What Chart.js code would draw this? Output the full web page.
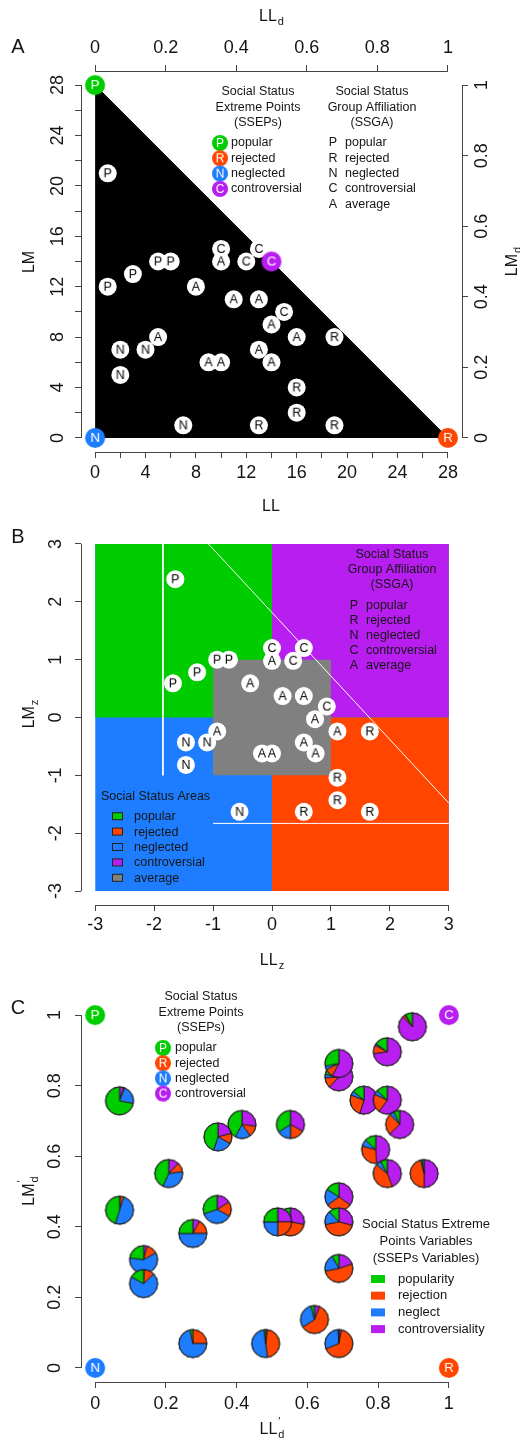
<!DOCTYPE html>
<html><head><meta charset="utf-8">
<script src="https://cdn.jsdelivr.net/npm/chart.js@4/dist/chart.umd.min.js"></script>
<style>
html,body{margin:0;padding:0;background:#fff;width:520px;height:1442px;overflow:hidden}
canvas{position:absolute;left:0}
</style></head><body>
<canvas id="cA" width="520" height="520" style="top:0px"></canvas>
<canvas id="cB" width="520" height="455" style="top:520px"></canvas>
<canvas id="cC" width="520" height="467" style="top:975px"></canvas>
<script>
// ================= DATA =================
// Panel A: raw scores (LL = like-least nominations, LM = like-most nominations)
const A_GROUP = ['P','P','P','P','P','C','C','C','C','A','A','A','A','A','A','A','A','A','A','A','N','N','N','N','R','R','R','R','R'];
const A_LL = [1,1,3,5,6, 10,13,12,15, 10,8,11,13,14,16,5,9,10,13,14, 2,4,2,7, 19,16,16,13,19];
const A_LM = [21,12,13,14,14, 15,15,14,10, 14,12,11,11,9,8,8,6,6,7,6, 7,7,5,1, 8,4,2,1,1];
const TRI_LL = [0,28];
const TRI_LM = [28,0];
const SSEP_LETTER = ['P','R','N','C'];
const SSEP_NAME = ['popular','rejected','neglected','controversial'];
const SSEP_LL = [0,28,0,14];
const SSEP_LM = [28,0,0,14];
const SSGA_LETTER = ['P','R','N','C','A'];
const SSGA_NAME = ['popular','rejected','neglected','controversial','average'];
const LL_TICKS = [0,2,4,6,8,10,12,14,16,18,20,22,24,26,28];
const LL_TICK_LABELS = ['0','','4','','8','','12','','16','','20','','24','','28'];
const D_TICKS = [0,0.2,0.4,0.6,0.8,1];
const D_TICK_LABELS = ['0','0.2','0.4','0.6','0.8','1'];

// Panel B: z-scores
const B_LLZ = [-1.64,-1.68,-1.27,-0.93,-0.73, 0,0.54,0.36,0.93, 0,-0.37,0.18,0.54,0.73,1.11,-0.93,-0.17,0,0.54,0.74, -1.46,-1.10,-1.46,-0.55, 1.66,1.11,1.11,0.54,1.66];
const B_LMZ = [2.39,0.59,0.78,1.0,1.0, 1.2,1.2,0.98,0.19, 0.98,0.59,0.37,0.37,-0.03,-0.24,-0.24,-0.62,-0.62,-0.43,-0.62, -0.43,-0.43,-0.82,-1.63, -0.24,-1.04,-1.43,-1.63,-1.63];
const AREA_NAME = ['neglected','popular','controversial','rejected','average'];
const AREA_X0 = [-3,-3,0,0,-1];
const AREA_X1 = [3,3,3,3,1];
const AREA_Y0 = [-3,0,0,-3,-1];
const AREA_Y1 = [3,3,3,0,1];
const AREA_LEGEND = ['popular','rejected','neglected','controversial','average'];
const GUIDE_LLZ = [[-1.85,-1.85],[-1.08,3],[-1,3]];
const GUIDE_LMZ = [[3,-1],[3,-1.48],[-1.83,-1.83]];
const Z_TICKS = [-3,-2,-1,0,1,2,3];
const Z_TICK_LABELS = ['-3','-2','-1','0','1','2','3'];

// Panel C: relative positions and SSEP variable shares
const PIE_X = [0.069,0.415,0.347,0.552,0.689,0.689,0.826,0.897,0.760,0.826,0.861,0.793,0.826,0.930,0.208,0.069,0.345,0.276,0.552,0.516,0.689,0.689,0.137,0.137,0.689,0.620,0.276,0.482,0.689];
const PIE_Y = [0.757,0.690,0.655,0.690,0.825,0.863,0.896,0.967,0.759,0.759,0.690,0.619,0.551,0.551,0.551,0.447,0.449,0.381,0.414,0.414,0.485,0.414,0.307,0.239,0.282,0.137,0.069,0.069,0.069];
const PIE_POP = [0.72,0.42,0.45,0.34,0.22,0.28,0.15,0.08,0.14,0.13,0.07,0.13,0.08,0.02,0.43,0.45,0.30,0.25,0.12,0.25,0.16,0.12,0.23,0.17,0.08,0.04,0.03,0.02,0.01];
const PIE_REJ = [0.01,0.13,0.12,0.17,0.12,0.10,0.10,0.03,0.26,0.22,0.25,0.30,0.42,0.46,0.11,0.04,0.17,0.17,0.42,0.25,0.30,0.43,0.13,0.12,0.52,0.60,0.25,0.46,0.66];
const PIE_NEG = [0.22,0.18,0.22,0.16,0.04,0.04,0.02,0.01,0.05,0.05,0.05,0.08,0.06,0.02,0.34,0.50,0.37,0.50,0.18,0.25,0.19,0.16,0.60,0.70,0.20,0.30,0.72,0.50,0.30];
const PIE_CON = [0.05,0.27,0.21,0.33,0.62,0.58,0.73,0.88,0.55,0.60,0.63,0.49,0.44,0.50,0.12,0.01,0.16,0.08,0.28,0.25,0.35,0.29,0.04,0.01,0.20,0.06,0.00,0.02,0.03];
const C_SSEP_LETTER = ['P','C','N','R'];
const C_SSEP_X = [0,1,0,1];
const C_SSEP_Y = [1,1,0,0];
const VAR_NAME = ['popularity','rejection','neglect','controversiality'];

// ================= STYLE =================
const FF = "'Liberation Sans', Arial, Helvetica, sans-serif";
const GREEN = '#00CD00', RED = '#FF4500', BLUE = '#1E7DFF', PURPLE = '#B91EF0', GREY = '#808080';
const COLOR_OF = {P: GREEN, R: RED, N: BLUE, C: PURPLE, A: GREY,
  popular: GREEN, rejected: RED, neglected: BLUE, controversial: PURPLE, average: GREY,
  popularity: GREEN, rejection: RED, neglect: BLUE, controversiality: PURPLE};
const AXC = '#444', TXT = '#151515';
Chart.defaults.font.family = FF;
Chart.defaults.color = TXT;

function circleImg(letter, fill, textColor, r, fs) {
  const s = 2 * r + 2, c = document.createElement('canvas');
  c.width = s; c.height = s;
  const g = c.getContext('2d');
  if (fill) { g.beginPath(); g.arc(s / 2, s / 2, r, 0, 2 * Math.PI); g.fillStyle = fill; g.fill(); }
  if (letter) {
    g.fillStyle = textColor; g.font = fs + 'px ' + FF;
    g.textAlign = 'center'; g.textBaseline = 'middle';
    g.fillText(letter, s / 2, s / 2 + 0.5);
  }
  return c;
}
function pieImg(vals, cols, r) {
  const s = 2 * r + 4, c = document.createElement('canvas');
  c.width = s; c.height = s;
  const g = c.getContext('2d'), cx = s / 2, cy = s / 2;
  const tot = vals.reduce((a, b) => a + b, 0);
  let a0 = -Math.PI / 2;
  g.strokeStyle = '#1a1a1a'; g.lineWidth = 0.9;
  vals.forEach((v, i) => {
    if (v <= 0) return;
    const a1 = a0 + 2 * Math.PI * v / tot;
    g.beginPath(); g.moveTo(cx, cy); g.arc(cx, cy, r, a0, a1); g.closePath();
    g.fillStyle = cols[i]; g.fill(); g.stroke();
    a0 = a1;
  });
  g.beginPath(); g.arc(cx, cy, r, 0, 2 * Math.PI); g.stroke();
  return c;
}
function makeAxis(pos, min, max, ticks, labels, size, pad) {
  const vertical = (pos === 'left' || pos === 'right');
  return {
    type: 'linear', position: pos, min: min, max: max, bounds: 'data',
    afterBuildTicks: s => { s.ticks = ticks.map(v => ({ value: v })); },
    afterFit: s => {
      if (vertical) s.width = size; else s.height = size;
      s.paddingTop = 0; s.paddingBottom = 0; s.paddingLeft = 0; s.paddingRight = 0;
    },
    grid: { display: true, drawOnChartArea: false, drawTicks: true, tickLength: 6, color: AXC, lineWidth: 1 },
    border: { display: false },
    ticks: {
      autoSkip: false, color: TXT, font: { size: 18, family: FF }, padding: pad,
      minRotation: vertical ? 90 : 0, maxRotation: vertical ? 90 : 0,
      crossAlign: vertical ? 'center' : 'near',
      callback: (v, i) => labels[i]
    }
  };
}
const rAxisLines = {
  id: 'rAxisLines',
  afterDraw(chart) {
    const ctx = chart.ctx;
    const al = p => Math.round(p - 0.5) + 0.5;
    ctx.save(); ctx.strokeStyle = AXC; ctx.lineWidth = 1;
    Object.values(chart.scales).forEach(s => {
      if (!s.ticks || !s.ticks.length) return;
      const a = s.getPixelForValue(s.ticks[0].value);
      const b = s.getPixelForValue(s.ticks[s.ticks.length - 1].value);
      ctx.beginPath();
      if (s.isHorizontal()) {
        const y = al(s.position === 'top' ? s.bottom : s.top);
        ctx.moveTo(a, y); ctx.lineTo(b, y);
      } else {
        const x = al(s.position === 'left' ? s.right : s.left);
        ctx.moveTo(x, a); ctx.lineTo(x, b);
      }
      ctx.stroke();
    });
    ctx.restore();
  }
};
function txt(ctx, s, x, y, size, align, color) {
  ctx.font = size + 'px ' + FF; ctx.fillStyle = color || TXT;
  ctx.textAlign = align || 'left'; ctx.textBaseline = 'middle';
  ctx.fillText(s, x, y);
}
function axisTitle(ctx, x, y, main, sub, sup, rotate) {
  const size = 16, ss = 11;
  ctx.save(); ctx.translate(x, y); if (rotate) ctx.rotate(-Math.PI / 2);
  ctx.font = size + 'px ' + FF; const wm = ctx.measureText(main).width;
  ctx.font = ss + 'px ' + FF;
  const ws = Math.max(sub ? ctx.measureText(sub).width : 0, sup ? ctx.measureText(sup).width : 0);
  const x0 = -(wm + ws + 1) / 2, base = size * 0.36;
  ctx.fillStyle = TXT; ctx.textAlign = 'left'; ctx.textBaseline = 'alphabetic';
  ctx.font = size + 'px ' + FF; ctx.fillText(main, x0, base);
  ctx.font = ss + 'px ' + FF;
  if (sub) ctx.fillText(sub, x0 + wm + 1, base + 4);
  if (sup) ctx.fillText(sup, x0 + wm + 1, base - 9);
  ctx.restore();
}
function drawImgAt(ctx, img, x, y) { ctx.drawImage(img, x - img.width / 2, y - img.height / 2); }
const baseOpts = {
  responsive: false, animation: false, events: [],
  plugins: { legend: { display: false }, tooltip: { enabled: false } }
};
const pts = (xs, ys) => xs.map((x, i) => ({ x: x, y: ys[i] }));

// ================= PANEL A =================
new Chart(document.getElementById('cA'), {
  type: 'scatter',
  data: { datasets: [
    { type: 'line', data: pts(TRI_LL, TRI_LM), fill: 'origin', backgroundColor: '#000', borderColor: '#000', borderWidth: 1, pointRadius: 0, order: 4 },
    { data: pts(A_LL, A_LM), pointStyle: 'circle', pointRadius: 9, pointBackgroundColor: '#fff', pointBorderColor: '#fff', pointBorderWidth: 0, order: 3 },
    { data: pts(A_LL, A_LM), pointStyle: A_GROUP.map(l => circleImg(l, null, '#000', 9, 12.5)), pointRadius: 9, order: 2 },
    { data: pts(SSEP_LL, SSEP_LM), pointStyle: SSEP_LETTER.map(l => circleImg(l, COLOR_OF[l], '#fff', 10, 13.5)), pointRadius: 10, order: 1 }
  ]},
  options: Object.assign({}, baseOpts, {
    scales: {
      x: makeAxis('bottom', -1.12, 29.12, LL_TICKS, LL_TICK_LABELS, 68, 4),
      x2: makeAxis('top', -0.04, 1.04, D_TICKS, D_TICK_LABELS, 71, 6),
      y: makeAxis('left', -1.12, 29.12, LL_TICKS, LL_TICK_LABELS, 81, 7),
      y2: makeAxis('right', -0.04, 1.04, D_TICKS, D_TICK_LABELS, 58, 2)
    }
  }),
  plugins: [rAxisLines, { id: 'textA', afterDraw(chart) {
    const ctx = chart.ctx; ctx.save();
    txt(ctx, 'A', 18, 47, 20, 'center');
    axisTitle(ctx, 271.5, 15, 'LL', 'd');
    axisTitle(ctx, 271.5, 505, 'LL');
    axisTitle(ctx, 28, 261.5, 'LM', null, null, true);
    axisTitle(ctx, 511, 261.5, 'LM', 'd', null, true);
    ['Social Status', 'Extreme Points', '(SSEPs)'].forEach((t, i) => txt(ctx, t, 258, 92 + 15.5 * i, 12.5, 'center'));
    SSEP_LETTER.forEach((l, i) => {
      const y = 143 + 15.3 * i;
      drawImgAt(ctx, circleImg(l, COLOR_OF[l], '#fff', 8, 12), 220, y);
      txt(ctx, SSEP_NAME[i], 231, y, 12.5);
    });
    ['Social Status', 'Group Affiliation', '(SSGA)'].forEach((t, i) => txt(ctx, t, 372, 92 + 15.5 * i, 12.5, 'center'));
    SSGA_LETTER.forEach((l, i) => {
      const y = 143 + 15.3 * i;
      txt(ctx, l, 333, y, 12.5, 'center');
      txt(ctx, SSGA_NAME[i], 345, y, 12.5);
    });
    ctx.restore();
  }}]
});

// ================= PANEL B =================
const bDatasets = [];
AREA_NAME.forEach((n, i) => bDatasets.push({
  type: 'line', data: [{ x: AREA_X0[i], y: AREA_Y1[i] }, { x: AREA_X1[i], y: AREA_Y1[i] }],
  fill: { value: AREA_Y0[i] }, backgroundColor: COLOR_OF[n], borderColor: 'transparent', borderWidth: 0, pointRadius: 0, order: 30 - i
}));
GUIDE_LLZ.forEach((xs, i) => bDatasets.push({
  type: 'line', data: pts(xs, GUIDE_LMZ[i]), fill: false, borderColor: '#fff', borderWidth: 1, pointRadius: 0, order: 10
}));
bDatasets.push({ data: pts(B_LLZ, B_LMZ), pointStyle: 'circle', pointRadius: 9, pointBackgroundColor: '#fff', pointBorderColor: '#fff', pointBorderWidth: 0, order: 3 });
bDatasets.push({ data: pts(B_LLZ, B_LMZ), pointStyle: A_GROUP.map(l => circleImg(l, null, '#000', 9, 12.5)), pointRadius: 9, order: 2 });

new Chart(document.getElementById('cB'), {
  type: 'scatter',
  data: { datasets: bDatasets },
  options: Object.assign({}, baseOpts, {
    layout: { padding: { top: 4, right: 57 } },
    scales: {
      x: makeAxis('bottom', -3.24, 3.24, Z_TICKS, Z_TICK_LABELS, 70, 3),
      y: makeAxis('left', -3.24, 3.24, Z_TICKS, Z_TICK_LABELS, 81, 11)
    }
  }),
  plugins: [rAxisLines, { id: 'textB', afterDraw(chart) {
    const ctx = chart.ctx; ctx.save(); ctx.translate(0, -520);
    txt(ctx, 'B', 18, 537, 20, 'center');
    axisTitle(ctx, 272, 959, 'LL', 'z');
    axisTitle(ctx, 28, 714, 'LM', 'z', null, true);
    ['Social Status', 'Group Affiliation', '(SSGA)'].forEach((t, i) => txt(ctx, t, 392, 555 + 15 * i, 12.5, 'center'));
    SSGA_LETTER.forEach((l, i) => {
      const y = 606 + 15 * i;
      txt(ctx, l, 354, y, 12.5, 'center');
      txt(ctx, SSGA_NAME[i], 366, y, 12.5);
    });
    txt(ctx, 'Social Status Areas', 101, 797, 12.5);
    AREA_LEGEND.forEach((n, i) => {
      const y = 816.7 + 15.4 * i;
      ctx.fillStyle = COLOR_OF[n]; ctx.fillRect(112.5, y - 4, 10, 7);
      ctx.strokeStyle = '#222'; ctx.lineWidth = 1; ctx.strokeRect(112.5, y - 4, 10, 7);
      txt(ctx, n, 134, y, 12.5);
    });
    ctx.restore();
  }}]
});

// ================= PANEL C =================
const PIE_COLS = [COLOR_OF.controversiality, COLOR_OF.rejection, COLOR_OF.neglect, COLOR_OF.popularity];
new Chart(document.getElementById('cC'), {
  type: 'scatter',
  data: { datasets: [
    { data: pts(PIE_X, PIE_Y), pointStyle: PIE_X.map((_, i) => pieImg([PIE_CON[i], PIE_REJ[i], PIE_NEG[i], PIE_POP[i]], PIE_COLS, 14)), pointRadius: 14, order: 2 },
    { data: pts(C_SSEP_X, C_SSEP_Y), pointStyle: C_SSEP_LETTER.map(l => circleImg(l, COLOR_OF[l], '#fff', 10, 13.5)), pointRadius: 10, order: 1 }
  ]},
  options: Object.assign({}, baseOpts, {
    layout: { padding: { top: 26, right: 57 } },
    scales: {
      x: makeAxis('bottom', -0.04, 1.04, D_TICKS, D_TICK_LABELS, 60, 5),
      y: makeAxis('left', -0.04, 1.04, D_TICKS, D_TICK_LABELS, 81, 7.5)
    }
  }),
  plugins: [rAxisLines, { id: 'textC', afterDraw(chart) {
    const ctx = chart.ctx; ctx.save(); ctx.translate(0, -975);
    txt(ctx, 'C', 18, 1008, 20, 'center');
    axisTitle(ctx, 272, 1428, 'LL', 'd', '\u2032');
    axisTitle(ctx, 28, 1191, 'LM', 'd', '\u2032', true);
    ['Social Status', 'Extreme Points', '(SSEPs)'].forEach((t, i) => txt(ctx, t, 201, 997 + 15.3 * i, 12.5, 'center'));
    SSEP_LETTER.forEach((l, i) => {
      const y = 1048 + 15.2 * i;
      drawImgAt(ctx, circleImg(l, COLOR_OF[l], '#fff', 8, 12), 163, y);
      txt(ctx, SSEP_NAME[i], 175, y, 12.5);
    });
    ['Social Status Extreme', 'Points Variables', '(SSEPs Variables)'].forEach((t, i) => txt(ctx, t, 426, 1224 + 17 * i, 13, 'center'));
    VAR_NAME.forEach((n, i) => {
      const y = 1279 + 16.7 * i;
      ctx.fillStyle = COLOR_OF[n]; ctx.fillRect(371, y - 4, 14, 8);
      txt(ctx, n, 398, y, 13);
    });
    ctx.restore();
  }}]
});
</script>
</body></html>
